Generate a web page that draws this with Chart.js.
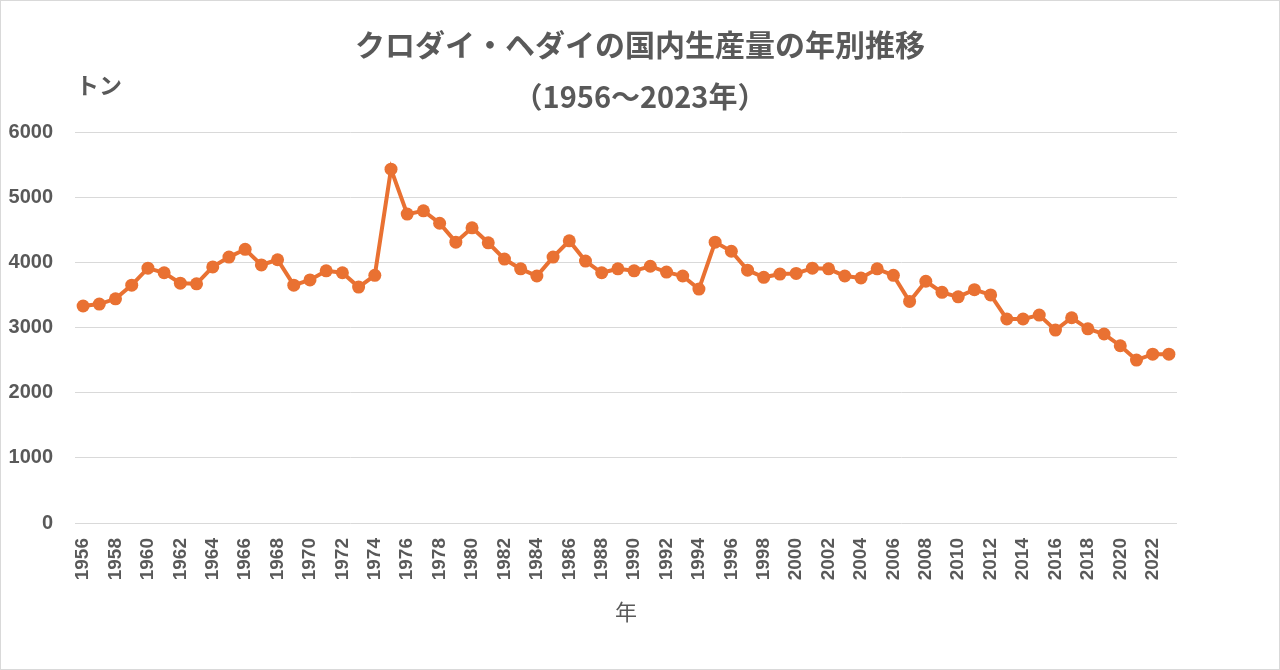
<!DOCTYPE html>
<html lang="ja">
<head>
<meta charset="utf-8">
<title>クロダイ・ヘダイの国内生産量の年別推移</title>
<script src="https://cdn.jsdelivr.net/npm/chart.js@4/dist/chart.umd.min.js"></script>
<style>
  html, body { margin: 0; padding: 0; background: #fff; }
  #wrap { width: 1280px; height: 670px; position: relative; }
</style>
</head>
<body>
<div id="wrap"><canvas id="chart"></canvas></div>
<script>
// 年（カテゴリ）
const years = [];
for (let y = 1956; y <= 2023; y++) years.push(String(y));

// 生産量（トン）、グラフから読み取り
const production = [
  3330, 3360, 3440, 3650, 3910, 3840, 3680, 3670, 3930, 4080,  // 1956-1965
  4200, 3960, 4040, 3650, 3730, 3870, 3840, 3620, 3800, 5430,  // 1966-1975
  4740, 4790, 4600, 4310, 4530, 4300, 4050, 3900, 3790, 4080,  // 1976-1985
  4330, 4020, 3840, 3900, 3870, 3940, 3850, 3790, 3590, 4310,  // 1986-1995
  4170, 3880, 3770, 3820, 3830, 3910, 3900, 3790, 3760, 3900,  // 1996-2005
  3800, 3400, 3710, 3540, 3470, 3580, 3500, 3130, 3130, 3190,  // 2006-2015
  2960, 3150, 2980, 2900, 2720, 2500, 2590, 2590               // 2016-2023
];

const yTicks = [0, 1000, 2000, 3000, 4000, 5000, 6000];

const titleText = 'クロダイ・ヘダイの国内生産量の年別推移';
const subtitleText = '（1956～2023年）';
const unitText = 'トン';

const textColor = '#595959';
const lineColor = '#E97132';
const jpFont = "'Noto Sans CJK JP', 'Noto Sans', sans-serif";
const numFont = "'Liberation Sans', Arial, sans-serif";

// 背景・枠線、タイトルと「トン」の単位ラベル
const decorations = {
  id: 'decorations',
  beforeDraw(chart) {
    const ctx = chart.ctx;
    ctx.save();
    ctx.fillStyle = '#fff';
    ctx.fillRect(0, 0, chart.width, chart.height);
    ctx.strokeStyle = '#d9d9d9';
    ctx.lineWidth = 1;
    ctx.strokeRect(0.5, 0.5, chart.width - 1, chart.height - 1);
    ctx.restore();
  },
  afterDraw(chart) {
    const ctx = chart.ctx;
    const area = chart.chartArea;
    ctx.save();
    ctx.fillStyle = textColor;
    ctx.textBaseline = 'middle';
    ctx.textAlign = 'center';
    ctx.font = "bold 30px " + jpFont;
    ctx.fillText(titleText, chart.width / 2, 45);
    ctx.font = "bold 29px " + jpFont;
    ctx.fillText(subtitleText, chart.width / 2, 97);
    ctx.textAlign = 'left';
    ctx.font = "bold 23px " + jpFont;
    ctx.fillText(unitText, area.left + 1, area.top - 47);
    ctx.restore();
  }
};

new Chart(document.getElementById('chart'), {
  type: 'line',
  data: {
    labels: years,
    datasets: [{
      label: '生産量',
      data: production,
      borderColor: lineColor,
      backgroundColor: lineColor,
      borderWidth: 4,
      pointRadius: 6.5,
      pointHoverRadius: 6.5,
      pointBorderWidth: 0,
      tension: 0
    }]
  },
  options: {
    responsive: true,
    maintainAspectRatio: false,
    animation: false,
    layout: {
      padding: { left: 6, right: 103, top: 132, bottom: 45 }
    },
    plugins: {
      legend: { display: false },
      tooltip: { enabled: false }
    },
    scales: {
      x: {
        offset: true,
        afterFit(scale) { scale.height = 102; },
        grid: { display: false, drawTicks: false },
        border: { display: false },
        ticks: {
          autoSkip: false,
          maxRotation: 90,
          minRotation: 90,
          padding: 15,
          color: textColor,
          font: { family: numFont, size: 19, weight: 'bold' },
          callback(value, index) {
            return index % 2 === 0 ? years[index] : '';
          }
        },
        title: {
          display: true,
          text: '年',
          color: textColor,
          font: { family: jpFont, size: 22 },
          padding: { top: 0, bottom: 0 }
        }
      },
      y: {
        min: 0,
        max: 6000,
        afterFit(scale) { scale.width = 69; },
        afterBuildTicks(scale) {
          scale.ticks = yTicks.map(v => ({ value: v }));
        },
        grid: { color: '#d9d9d9', lineWidth: 1, drawTicks: false },
        border: { display: false },
        ticks: {
          padding: 22,
          color: textColor,
          font: { family: numFont, size: 20, weight: 'bold' },
          callback(value) { return String(value); }
        }
      }
    }
  },
  plugins: [decorations]
});
</script>
</body>
</html>
